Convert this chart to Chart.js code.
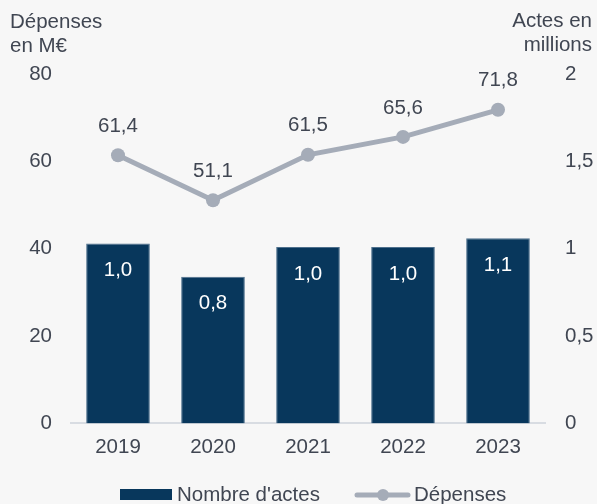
<!DOCTYPE html>
<html>
<head>
<meta charset="utf-8">
<script src="https://cdn.jsdelivr.net/npm/chart.js@4.4.1/dist/chart.umd.min.js"></script>
<style>
  html, body { margin: 0; padding: 0; background: #f7f7f7; }
  #wrap { width: 597px; height: 504px; position: relative; }
</style>
</head>
<body>
<div id="wrap"><canvas id="chart" width="597" height="504"></canvas></div>
<script>
const years = ['2019', '2020', '2021', '2022', '2023'];
const actes = [1.03, 0.84, 1.01, 1.01, 1.06];
const depenses = [61.4, 51.1, 61.5, 65.6, 71.8];
const leftTicks = [0, 20, 40, 60, 80];
const rightTicks = [0, 0.5, 1, 1.5, 2];

const NAVY = '#08375c';
const GREY = '#a5acb8';
const TEXT = '#404652';
const FONT = '"Liberation Sans", Arial, sans-serif';
const SIZE = 20.5;

const fr = (v, d) => v.toFixed(d).replace('.', ',');

// ---- value labels, axis titles and legend ----
const extras = {
  id: 'extras',
  afterDatasetsDraw(chart) {
    const ctx = chart.ctx;
    ctx.save();
    ctx.font = SIZE + 'px ' + FONT;
    ctx.textAlign = 'center';
    ctx.textBaseline = 'middle';

    chart.getDatasetMeta(1).data.forEach((bar, i) => {
      ctx.fillStyle = '#ffffff';
      ctx.fillText(fr(actes[i], 1), bar.x, bar.y + 27);
    });
    chart.getDatasetMeta(0).data.forEach((pt, i) => {
      ctx.fillStyle = TEXT;
      ctx.fillText(fr(depenses[i], 1), pt.x, pt.y - 29);
    });

    // axis titles
    ctx.textBaseline = 'alphabetic';
    ctx.textAlign = 'left';
    ctx.fillText('Dépenses', 10, 28);
    ctx.fillText('en M€', 10, 52);
    ctx.textAlign = 'right';
    ctx.fillText('Actes en', 592, 27);
    ctx.fillText('millions', 592, 51);

    // legend
    const ly = 495;
    ctx.fillStyle = NAVY;
    ctx.fillRect(120, 489, 52, 11);
    ctx.fillStyle = TEXT;
    ctx.textAlign = 'left';
    ctx.textBaseline = 'middle';
    ctx.fillText("Nombre d'actes", 177, ly);
    ctx.strokeStyle = GREY;
    ctx.lineWidth = 5;
    ctx.lineCap = 'round';
    ctx.beginPath();
    ctx.moveTo(357, ly);
    ctx.lineTo(408, ly);
    ctx.stroke();
    ctx.fillStyle = GREY;
    ctx.beginPath();
    ctx.arc(383, ly, 6, 0, Math.PI * 2);
    ctx.fill();
    ctx.fillStyle = TEXT;
    ctx.fillText('Dépenses', 414, ly);
    ctx.restore();
  }
};

new Chart(document.getElementById('chart'), {
  data: {
    labels: years,
    datasets: [
      {
        type: 'line',
        label: 'Dépenses',
        data: depenses,
        yAxisID: 'y',
        borderColor: GREY,
        backgroundColor: GREY,
        borderWidth: 5,
        pointRadius: 7,
        pointHoverRadius: 7,
        pointBackgroundColor: GREY,
        pointBorderWidth: 0,
        tension: 0,
        order: 0,
      },
      {
        type: 'bar',
        label: "Nombre d'actes",
        data: actes,
        yAxisID: 'y2',
        backgroundColor: NAVY,
        borderColor: '#4d6f8c',
        borderWidth: 1,
        barPercentage: 0.67,
        categoryPercentage: 1,
        order: 1,
      },
    ],
  },
  options: {
    responsive: false,
    animation: false,
    events: [],
    layout: { padding: { top: 74, bottom: 32, left: 0, right: 0 } },
    plugins: { legend: { display: false }, tooltip: { enabled: false } },
    scales: {
      x: {
        grid: { display: false, drawTicks: false },
        border: { display: true, color: '#d8dce2', width: 2 },
        ticks: { color: TEXT, font: { family: FONT, size: SIZE }, padding: 12 },
      },
      y: {
        position: 'left',
        min: 0,
        max: 80,
        afterBuildTicks: (s) => { s.ticks = leftTicks.map((v) => ({ value: v })); },
        afterFit: (s) => { s.width = 70.5; },
        grid: { display: false, drawTicks: false },
        border: { display: false },
        ticks: { color: TEXT, font: { family: FONT, size: SIZE }, padding: 18.5 },
      },
      y2: {
        position: 'right',
        min: 0,
        max: 2,
        afterBuildTicks: (s) => { s.ticks = rightTicks.map((v) => ({ value: v })); },
        afterFit: (s) => { s.width = 51.5; },
        grid: { display: false, drawTicks: false },
        border: { display: false },
        ticks: {
          color: TEXT,
          font: { family: FONT, size: SIZE },
          padding: 19.5,
          callback: (v) => String(v).replace('.', ','),
        },
      },
    },
  },
  plugins: [extras],
});
</script>
</body>
</html>
